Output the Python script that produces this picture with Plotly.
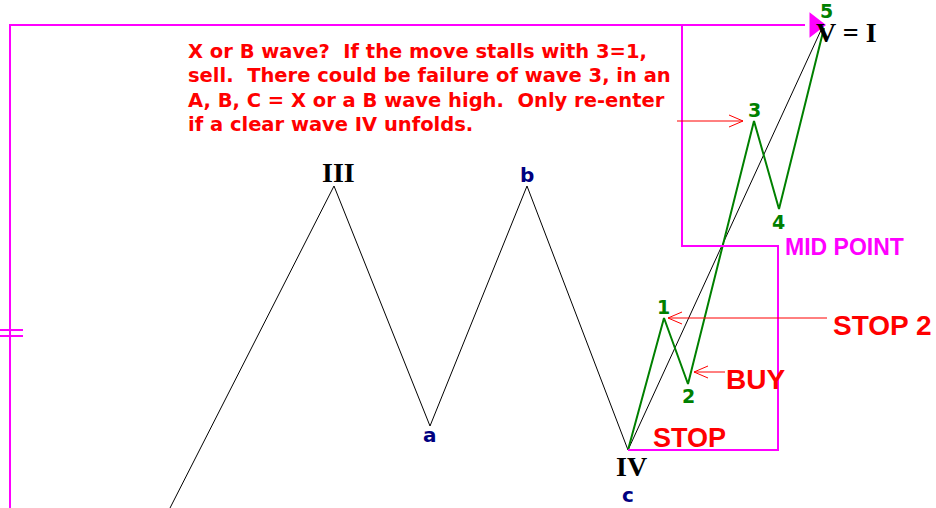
import plotly.graph_objects as go

# Main corrective structure (III, a, b, IV) in chart coordinates (y grows downward)
main_x = [170, 334, 430, 527, 628]
main_y = [508, 186, 426, 186, 450]

# Straight trend line IV -> V
trend_x = [628, 822]
trend_y = [450, 28]

# Green impulse 1-5
imp_x = [628, 664, 688, 754, 779, 824]
imp_y = [450, 318, 384, 121, 209, 28]
imp_labels = ["", "1", "2", "3", "4", "5"]

# Magenta frame
frame_left_x = [10, 10, 805]
frame_left_y = [508, 25, 25]
frame_box_x = [682, 682, 778, 778, 628]
frame_box_y = [25, 246, 246, 450, 450]

RED = "#ff0000"
MAG = "#ff00ff"
GREEN = "#008000"
NAVY = "#000080"

fig = go.Figure()
fig.add_trace(go.Scatter(x=main_x, y=main_y, mode="lines",
                         line=dict(color="black", width=1), hoverinfo="skip"))
fig.add_trace(go.Scatter(x=trend_x, y=trend_y, mode="lines",
                         line=dict(color="black", width=1), hoverinfo="skip"))
fig.add_trace(go.Scatter(x=imp_x, y=imp_y, mode="lines",
                         line=dict(color=GREEN, width=2), hoverinfo="skip"))
fig.add_trace(go.Scatter(x=frame_left_x, y=frame_left_y, mode="lines",
                         line=dict(color=MAG, width=2), hoverinfo="skip"))
fig.add_trace(go.Scatter(x=frame_box_x, y=frame_box_y, mode="lines",
                         line=dict(color=MAG, width=2), hoverinfo="skip"))
# double tick on left line
for ty in [330, 336]:
    fig.add_trace(go.Scatter(x=[0, 23], y=[ty, ty], mode="lines",
                             line=dict(color=MAG, width=2), hoverinfo="skip"))

# Red arrows (tail -> tip), open chevron heads
red_arrows = [((677, 121), (743, 121)),
              ((827, 318), (668, 318)),
              ((725, 372), (694, 372))]
for (tx, ty), (hx, hy) in red_arrows:
    d = 1 if hx > tx else -1
    fig.add_trace(go.Scatter(x=[tx, hx], y=[ty, hy], mode="lines",
                             line=dict(color=RED, width=1), hoverinfo="skip"))
    fig.add_trace(go.Scatter(x=[hx - d * 14, hx, hx - d * 14], y=[hy - 6, hy, hy + 6],
                             mode="lines", line=dict(color=RED, width=1), hoverinfo="skip"))

ann = []
def txt(x, y, s, size, color, family="DejaVu Sans", xanchor="center", bold=True):
    ann.append(dict(x=x, y=y, text=(f"<b>{s}</b>" if bold else s), showarrow=False,
                    font=dict(size=size, color=color, family=family),
                    xanchor=xanchor, yanchor="middle"))

serif = "Liberation Serif"
sans = "Liberation Sans"
txt(338, 172, "III", 28, "black", serif)
txt(430, 435, "a", 20, NAVY)
txt(527, 175, "b", 20, NAVY)
txt(631, 466, "IV", 28, "black", serif)
txt(628, 495, "c", 20, NAVY)
txt(814, 32, "V = I", 28, "black", serif, xanchor="left")
lbl_pos = {1: (663, 307), 2: (688, 396), 3: (754, 110), 4: (778, 222), 5: (826, 11)}
for i, lab in enumerate(imp_labels):
    if lab:
        txt(lbl_pos[i][0], lbl_pos[i][1], lab, 19, GREEN)

# magenta arrow head at top (drawn over the V like the original)
fig.add_trace(go.Scatter(x=[815], y=[25], mode="markers",
                         marker=dict(symbol="triangle-right", size=22, color=MAG),
                         hoverinfo="skip"))

txt(783, 247, "MID POINT", 23, MAG, family=sans, xanchor="left")
txt(831, 325, "STOP 2", 28, RED, family=sans, xanchor="left")
txt(724, 379, "BUY", 28, RED, family=sans, xanchor="left")
txt(651, 438, "STOP", 27, RED, family=sans, xanchor="left")

para = ["X or B wave?  If the move stalls with 3=1,",
        "sell.  There could be failure of wave 3, in an",
        "A, B, C = X or a B wave high.  Only re-enter",
        "if a clear wave IV unfolds."]
for i, line in enumerate(para):
    txt(186, 51 + i * 24.5, line, 19.5, RED, xanchor="left")

fig.update_layout(
    width=936, height=508, margin=dict(l=0, r=0, t=0, b=0),
    paper_bgcolor="white", plot_bgcolor="white", showlegend=False,
    xaxis=dict(range=[0, 936], visible=False, fixedrange=True),
    yaxis=dict(range=[508, 0], visible=False, fixedrange=True),
    annotations=ann,
)
fig.write_html("out.html", config={"displayModeBar": False},
               post_script="document.body.style.margin='0';")
